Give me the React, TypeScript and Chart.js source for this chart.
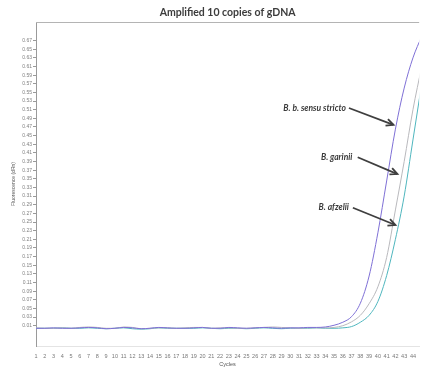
import React, { useEffect, useRef } from "react";
import { Chart, registerables } from "chart.js";

Chart.register(...registerables);

const chartTitle = "Amplified 10 copies of gDNA";
const xTitle = "Cycles";
const yTitle = "Fluorescence (dRn)";

const cycles = [1,2,3,4,5,6,7,8,9,10,11,12,13,14,15,16,17,18,19,20,21,22,23,24,25,26,27,28,29,30,31,32,33,34,35,36,37,38,39,40,41,42,43,44,45];

const sensuStricto = [0.004,0.004,0.005,0.004,0.004,0.005,0.006,0.005,0.003,0.004,0.006,0.005,0.003,0.004,0.006,0.005,0.004,0.004,0.005,0.006,0.004,0.004,0.006,0.005,0.004,0.005,0.006,0.005,0.004,0.005,0.005,0.006,0.006,0.007,0.011,0.018,0.031,0.062,0.125,0.225,0.345,0.465,0.56,0.63,0.68];
const garinii = [0.005,0.004,0.004,0.005,0.004,0.006,0.007,0.006,0.004,0.004,0.007,0.006,0.003,0.004,0.005,0.005,0.004,0.005,0.006,0.006,0.004,0.005,0.005,0.004,0.004,0.005,0.006,0.007,0.006,0.005,0.004,0.005,0.005,0.005,0.006,0.010,0.019,0.034,0.061,0.10,0.168,0.278,0.39,0.51,0.61];
const afzelii = [0.004,0.004,0.004,0.005,0.004,0.004,0.005,0.004,0.003,0.004,0.005,0.003,0.002,0.003,0.005,0.004,0.004,0.004,0.004,0.005,0.004,0.003,0.004,0.004,0.003,0.004,0.005,0.004,0.003,0.004,0.004,0.004,0.005,0.004,0.004,0.005,0.008,0.018,0.034,0.066,0.126,0.21,0.31,0.44,0.57];

const yTickValues = [0.01,0.03,0.05,0.07,0.09,0.11,0.13,0.15,0.17,0.19,0.21,0.23,0.25,0.27,0.29,0.31,0.33,0.35,0.37,0.39,0.41,0.43,0.45,0.47,0.49,0.51,0.53,0.55,0.57,0.59,0.61,0.63,0.65,0.67];
const xTickValues = [1,2,3,4,5,6,7,8,9,10,11,12,13,14,15,16,17,18,19,20,21,22,23,24,25,26,27,28,29,30,31,32,33,34,35,36,37,38,39,40,41,42,43,44];

// annotation labels: text, text right-end (cycle, value), arrow start, arrow tip
const annoLabels = ["B. b. sensu stricto", "B. garinii", "B. afzelii"];
const annoTextPos = [[36.36, 0.514], [37.1, 0.400], [36.69, 0.285]];
const annoArrowFrom = [[36.7, 0.514], [37.7, 0.400], [37.15, 0.283]];
const annoArrowTo = [[41.78, 0.475], [42.23, 0.361], [42.0, 0.243]];

const pts = (vals: number[]) => cycles.map((c, i) => ({ x: c, y: vals[i] }));

const overlayPlugin = {
  id: "overlay",
  afterDraw(chart: any) {
    const { ctx, chartArea, scales } = chart;
    const xs = scales.x;
    const ys = scales.y;
    ctx.save();
    // top frame line
    ctx.strokeStyle = "#b4b4b4";
    ctx.lineWidth = 1;
    ctx.beginPath();
    ctx.moveTo(chartArea.left, chartArea.top + 0.5);
    ctx.lineTo(chartArea.right, chartArea.top + 0.5);
    ctx.stroke();
    // title
    ctx.fillStyle = "#3c3c3c";
    ctx.font = "bold 10.5px Lato";
    ctx.textAlign = "center";
    ctx.textBaseline = "middle";
    ctx.fillText(chartTitle, (chartArea.left + chartArea.right) / 2, 13);
    // annotations
    annoLabels.forEach((label, i) => {
      const tx = xs.getPixelForValue(annoTextPos[i][0]);
      const ty = ys.getPixelForValue(annoTextPos[i][1]);
      ctx.fillStyle = "#3a3a3a";
      ctx.font = "italic bold 8.5px Lato";
      ctx.textAlign = "right";
      ctx.textBaseline = "middle";
      ctx.fillText(label, tx, ty);
      const x0 = xs.getPixelForValue(annoArrowFrom[i][0]);
      const y0 = ys.getPixelForValue(annoArrowFrom[i][1]);
      const x1 = xs.getPixelForValue(annoArrowTo[i][0]);
      const y1 = ys.getPixelForValue(annoArrowTo[i][1]);
      ctx.strokeStyle = "#3f3f3f";
      ctx.lineWidth = 1.8;
      ctx.beginPath();
      ctx.moveTo(x0, y0);
      ctx.lineTo(x1, y1);
      ctx.stroke();
      const ang = Math.atan2(y1 - y0, x1 - x0);
      const hl = 8;
      ctx.beginPath();
      ctx.moveTo(x1 - hl * Math.cos(ang - 0.45), y1 - hl * Math.sin(ang - 0.45));
      ctx.lineTo(x1, y1);
      ctx.lineTo(x1 - hl * Math.cos(ang + 0.45), y1 - hl * Math.sin(ang + 0.45));
      ctx.stroke();
    });
    ctx.restore();
  },
};

export default function App() {
  const ref = useRef<HTMLCanvasElement>(null);
  useEffect(() => {
    if (!ref.current) return;
    const chart = new Chart(ref.current, {
      type: "line",
      data: {
        datasets: [
          { label: "B. b. sensu stricto", data: pts(sensuStricto), borderColor: "#7f70d6", borderWidth: 1, pointRadius: 0, cubicInterpolationMode: "monotone" },
          { label: "B. garinii", data: pts(garinii), borderColor: "#b9b9bd", borderWidth: 1, pointRadius: 0, cubicInterpolationMode: "monotone" },
          { label: "B. afzelii", data: pts(afzelii), borderColor: "#4fb6be", borderWidth: 1, pointRadius: 0, cubicInterpolationMode: "monotone" },
        ],
      },
      options: {
        responsive: false,
        animation: false,
        layout: { padding: { top: 22, left: 0, right: 0, bottom: 0 } },
        plugins: { legend: { display: false }, tooltip: { enabled: false }, title: { display: false } },
        scales: {
          x: {
            type: "linear",
            min: 1,
            max: 44.71,
            afterBuildTicks: (scale: any) => { scale.ticks = xTickValues.map((v) => ({ value: v })); },
            afterFit: (scale: any) => { scale.height = 22; },
            grid: { display: false, drawTicks: false, tickLength: 0 },
            border: { display: true, color: "#e4e4e4" },
            ticks: { autoSkip: false, maxRotation: 0, padding: 7, color: "#777", font: { family: "Liberation Sans", size: 5.5 }, callback: (v: any) => String(v) },
            title: { display: true, text: xTitle, color: "#555", font: { family: "Liberation Sans", size: 5.5 }, padding: { top: 0, bottom: 0 } },
          },
          y: {
            type: "linear",
            min: -0.037,
            max: 0.713,
            afterBuildTicks: (scale: any) => { scale.ticks = yTickValues.map((v) => ({ value: v })); },
            afterFit: (scale: any) => { scale.width = 36; },
            grid: { drawOnChartArea: false, drawTicks: true, tickLength: 3, color: "#9a9a9a" },
            border: { display: true, color: "#9a9a9a" },
            ticks: { autoSkip: false, padding: 1, color: "#808080", font: { family: "Liberation Sans", size: 5 }, callback: (v: any) => Number(v).toFixed(2) },
            title: { display: true, text: yTitle, color: "#555", font: { family: "Liberation Sans", size: 5 }, padding: { top: 11, bottom: 0 } },
          },
        },
      },
      plugins: [overlayPlugin],
    } as any);
    return () => chart.destroy();
  }, []);
  return (
    <div style={{ position: "fixed", left: 0, top: 0, width: 423, height: 368, background: "#fff" }}>
      <canvas ref={ref} width={423} height={368} style={{ display: "block" }} />
    </div>
  );
}
